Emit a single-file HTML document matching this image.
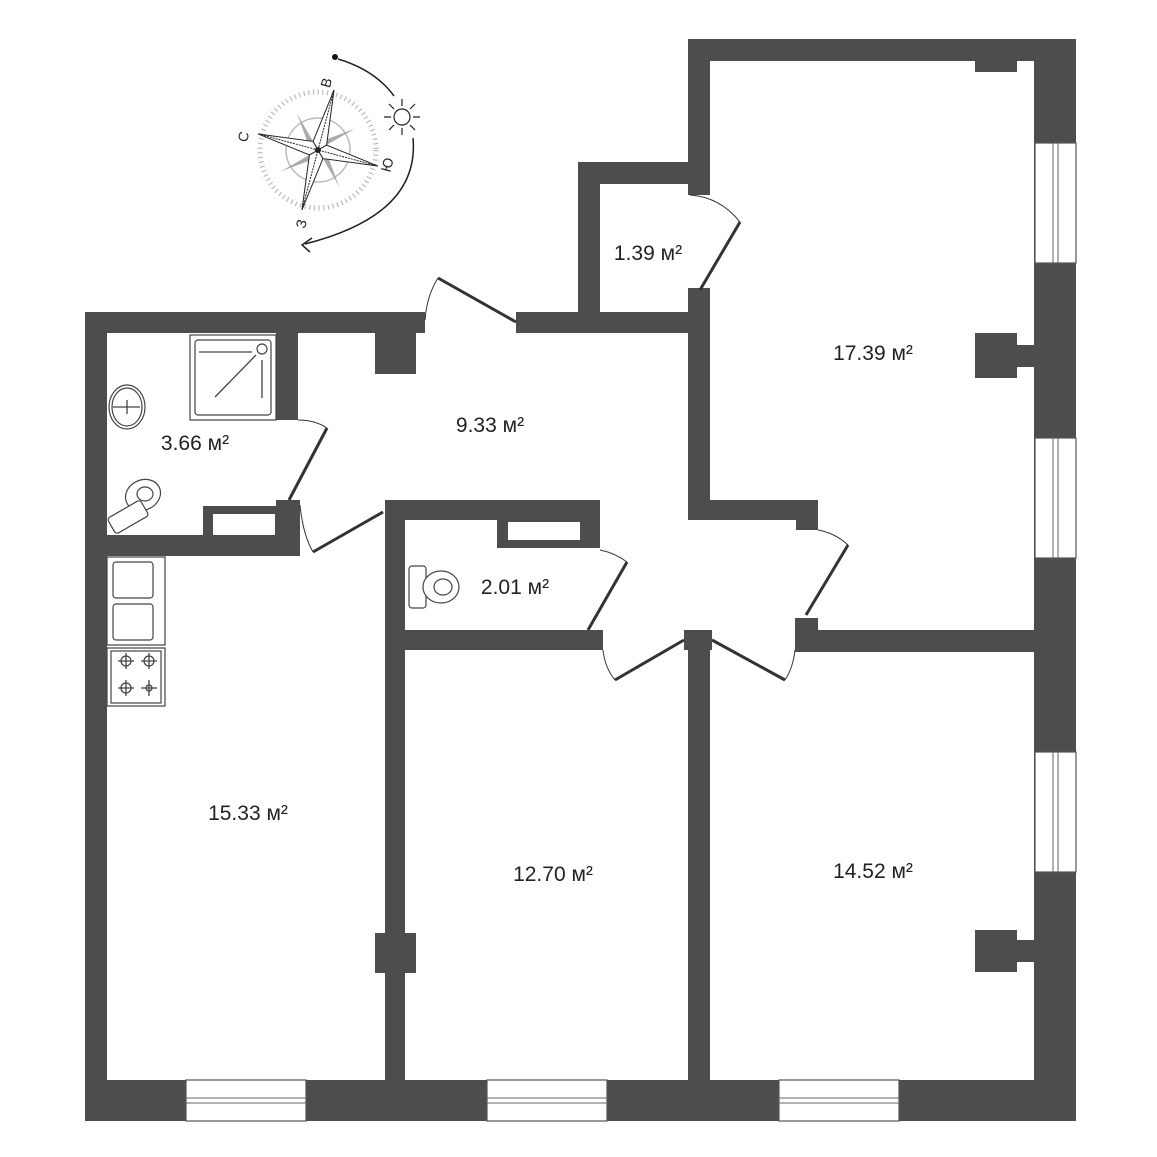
<!DOCTYPE html>
<html><head><meta charset="utf-8"><style>
html,body{margin:0;padding:0;background:#fff}
svg{display:block}
text{font-family:"Liberation Sans",sans-serif;fill:#222}
</style></head><body>
<svg width="1157" height="1157" viewBox="0 0 1157 1157" xmlns="http://www.w3.org/2000/svg">
<g fill="#4d4d4d">
<!-- outer -->
<rect x="85" y="312" width="22" height="809"/>
<rect x="85" y="1080" width="991" height="41"/>
<rect x="1034" y="39" width="42" height="1082"/>
<rect x="688" y="39" width="388" height="22"/>
<rect x="85" y="312" width="340" height="21"/>
<rect x="516" y="312" width="194" height="21"/>
<rect x="688" y="39" width="22" height="156"/>
<rect x="688" y="288" width="22" height="232"/>
<rect x="975" y="55" width="42" height="17"/>
<!-- closet -->
<rect x="578" y="162" width="22" height="171"/>
<rect x="578" y="162" width="132" height="22"/>
<!-- pillars -->
<rect x="375" y="333" width="41" height="41"/>
<rect x="975" y="333" width="42" height="45"/>
<rect x="1015" y="345" width="20" height="22"/>
<rect x="975" y="930" width="42" height="42"/>
<rect x="1015" y="940" width="20" height="22"/>
<rect x="375" y="933" width="41" height="40"/>
<!-- bathroom -->
<rect x="276" y="333" width="22" height="87"/>
<rect x="107" y="535" width="191" height="21"/>
<rect x="203" y="506" width="95" height="29"/>
<rect x="276" y="500" width="24" height="56"/>
<!-- corridor / wc -->
<rect x="385" y="500" width="20" height="580"/>
<rect x="385" y="500" width="215" height="20"/>
<rect x="497" y="500" width="103" height="48"/>
<rect x="385" y="630" width="218" height="20"/>
<rect x="688" y="630" width="22" height="450"/>
<rect x="684" y="630" width="28" height="20"/>
<!-- big room -->
<rect x="688" y="500" width="130" height="20"/>
<rect x="796" y="500" width="22" height="30"/>
<rect x="795" y="630" width="239" height="22"/>
<rect x="795" y="618" width="23" height="34"/>
</g>
<g fill="#fff">
<rect x="213" y="514" width="62" height="21"/>
<rect x="508" y="522" width="72" height="18"/>
</g>
<!-- windows -->
<g fill="#fff" stroke="#555" stroke-width="1.2">
<rect x="1035" y="143" width="41" height="120"/>
<rect x="1035" y="438" width="41" height="120"/>
<rect x="1035" y="752" width="41" height="120"/>
<rect x="186" y="1080" width="120" height="41"/>
<rect x="487" y="1080" width="120" height="41"/>
<rect x="779" y="1080" width="120" height="41"/>
</g>
<g stroke="#666" stroke-width="1" fill="none">
<path d="M1053 143V263M1058 143V263M1053 438V558M1058 438V558M1053 752V872M1058 752V872"/>
<path d="M186 1098H306M186 1103H306M487 1098H607M487 1103H607M779 1098H899M779 1103H899"/>
</g>
<!-- doors -->
<g stroke="#333" stroke-width="3" fill="none">
<path d="M438 278L516 322"/>
<path d="M740 222L700 290"/>
<path d="M327 428L289 500"/>
<path d="M383 512L313 552"/>
<path d="M627 562L588 630"/>
<path d="M848 545L806 615"/>
<path d="M684 640L615 680"/>
<path d="M712 640L785 680"/>
</g>
<g stroke="#333" stroke-width="1" fill="none">
<path d="M425 320Q427 295 438 278"/>
<path d="M690 195Q720 197 740 222"/>
<path d="M298 420Q315 420 327 428"/>
<path d="M300 505Q303 535 313 552"/>
<path d="M600 550Q615 553 627 562"/>
<path d="M818 530Q835 533 848 545"/>
<path d="M603 650Q605 668 615 680"/>
<path d="M795 650Q793 668 785 680"/>
</g>
<!-- fixtures -->
<g stroke="#444" stroke-width="1.2" fill="#fff">
<rect x="190" y="335" width="86" height="85"/>
<rect x="195" y="340" width="76" height="75" rx="3"/>
<circle cx="262" cy="349" r="5"/>
<ellipse cx="127" cy="407" rx="18" ry="22"/>
<ellipse cx="127" cy="407" rx="15" ry="19"/>
<ellipse cx="143" cy="495" rx="18" ry="15" transform="rotate(-25 143 495)"/>
<ellipse cx="145" cy="494" rx="8" ry="7"/>
<rect x="109" y="508" width="38" height="18" rx="3" transform="rotate(-30 128 517)"/>
<rect x="409" y="566" width="17" height="42" rx="3"/>
<ellipse cx="441" cy="587" rx="18" ry="16"/>
<ellipse cx="443" cy="587" rx="9" ry="8"/>
<rect x="107" y="557" width="58" height="88"/>
<rect x="113" y="562" width="40" height="36" rx="3"/>
<rect x="113" y="604" width="40" height="36" rx="3"/>
<rect x="107" y="648" width="58" height="58"/>
<rect x="111" y="651" width="50" height="52"/>
</g>
<g stroke="#444" stroke-width="1.3" fill="none">
<path d="M199 352H252M262 360V398M256 355L215 397"/>
<path d="M113 407H140M127 400V414"/>
<circle cx="126" cy="661" r="5"/><circle cx="149" cy="661" r="5"/><circle cx="126" cy="688" r="5"/><circle cx="149" cy="688" r="3"/>
<path d="M118 661h16M126 653v16M141 661h16M149 653v16M118 688h16M126 680v16M141 688h16M149 680v16"/>
</g>
<!-- compass -->
<g transform="translate(318,150)">
<circle r="58" fill="none" stroke="#bbb" stroke-width="5" stroke-dasharray="1.2 3.5"/>
<circle r="32" fill="none" stroke="#bbb" stroke-width="1.5"/>
<g transform="rotate(15)" fill="#aaa">
<path d="M0 0L-8 -8L-25 -25Z M0 0L8 -8L25 -25Z"/>
<path d="M-4 -4L-30 -30L-10 -2Z M4 -4L30 -30L2 -10Z M-4 4L-30 30L-2 10Z M4 4L30 30L10 2Z"/>
</g>
<g transform="rotate(15)" fill="#fff" stroke="#222" stroke-width="1">
<path d="M0 -62L7 -7L0 0L-7 -7Z"/><path d="M0 62L7 7L0 0L-7 7Z"/>
<path d="M-62 0L-7 -7L0 0L-7 7Z"/><path d="M62 0L7 -7L0 0L7 7Z"/>
<path d="M0 -62V62M-62 0H62" stroke-dasharray="2 1"/>
</g>
<circle r="3" fill="#222"/>
</g>
<text x="0" y="0" font-size="14" transform="translate(331,84) rotate(-75)" text-anchor="middle">В</text>
<text x="0" y="0" font-size="14" transform="translate(248,138) rotate(-75)" text-anchor="middle">С</text>
<text x="0" y="0" font-size="14" transform="translate(392,166) rotate(-75)" text-anchor="middle">Ю</text>
<text x="0" y="0" font-size="14" transform="translate(306,225) rotate(-75)" text-anchor="middle">З</text>
<circle cx="335" cy="57" r="3" fill="#111"/>
<path d="M338 59Q375 70 394 96" stroke="#222" stroke-width="1.5" fill="none"/>
<path d="M413 138Q420 215 305 244" stroke="#222" stroke-width="1.5" fill="none"/>
<path d="M312 238L302 245L310 252" stroke="#222" stroke-width="1.5" fill="none"/>
<g transform="translate(402,117)" stroke="#222" stroke-width="1.2" fill="none">
<circle r="8"/>
<path d="M0 -11V-18M0 11V18M-11 0H-18M11 0H18M8 -8L13 -13M-8 8L-13 13M8 8L13 13M-8 -8L-13 -13"/>
</g>
<!-- labels -->
<g font-size="21" text-anchor="middle">
<text x="648" y="260">1.39 м²</text>
<text x="873" y="360">17.39 м²</text>
<text x="490" y="432">9.33 м²</text>
<text x="195" y="450">3.66 м²</text>
<text x="515" y="594">2.01 м²</text>
<text x="248" y="820">15.33 м²</text>
<text x="553" y="881">12.70 м²</text>
<text x="873" y="878">14.52 м²</text>
</g>
</svg>
</body></html>
